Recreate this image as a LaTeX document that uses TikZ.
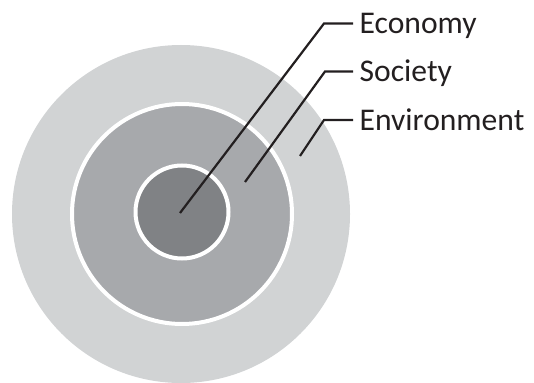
\documentclass[tikz,border=0pt]{standalone}
\usepackage{fontspec}
\setmainfont{Carlito}
\definecolor{ringouter}{HTML}{D1D3D4}
\definecolor{ringmid}{HTML}{A7A9AC}
\definecolor{ringinner}{HTML}{808285}
\definecolor{inkline}{HTML}{231F20}
\begin{document}
\begin{tikzpicture}[x=1pt,y=-1pt,
  disc/.style={circle,inner sep=0pt,outer sep=0pt},
  lbl/.style={anchor=west,inner xsep=6.5pt,inner ysep=0pt,text height=20.2pt,text depth=0pt,
    font=\fontsize{31.6}{36}\selectfont,text=inkline},
  conn/.style={draw=inkline,line width=2.2pt,line join=miter}]
\useasboundingbox (0,0) rectangle (534,382);
\node[disc,fill=ringouter,minimum size=338pt] (outer) at (181,214) {};
\node[disc,fill=ringmid,draw=white,line width=4pt,minimum size=220pt] (middle) at (182,214) {};
\node[disc,fill=ringinner,draw=white,line width=4pt,minimum size=93pt] (inner) at (182,212) {};
\coordinate (pe) at (180,213);
\coordinate (ps) at (245,182);
\coordinate (pv) at (300,156);
\node[lbl] (economy) at (353,23.5) {Economy};
\node[lbl] (society) at (353,71.5) {Society};
\node[lbl] (environment) at (353,120) {Environment};
\draw[conn] (pe) -- (324,23.5) -- (economy.west);
\draw[conn] (ps) -- (325,71.5) -- (society.west);
\draw[conn] (pv) -- (324,120) -- (environment.west);
\end{tikzpicture}
\end{document}
